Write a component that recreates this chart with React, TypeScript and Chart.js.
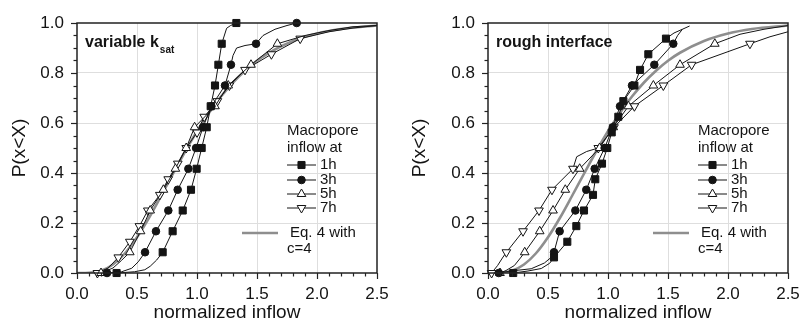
import React, { useEffect, useRef } from 'react';
import { Chart, registerables } from 'chart.js';

Chart.register(...registerables);

const FONT = '"Liberation Sans", Arial, Helvetica, sans-serif';

// ---------- axes ----------
const X_MIN = 0;
const X_MAX = 2.5;
const X_MAJOR = 0.5;
const X_MINOR = 0.1;
const Y_MIN = 0;
const Y_MAX = 1;
const Y_MAJOR = 0.2;
const Y_MINOR = 0.05;
const X_TITLE = 'normalized inflow';
const Y_TITLE = 'P(x<X)';

// ---------- legend text ----------
const LEGEND_TITLE = ['Macropore', 'inflow at'];
const SERIES_LABELS = ['1h', '3h', '5h', '7h'];
const EQ_LABEL = ['Eq. 4 with', 'c=4'];

// ---------- Eq. 4 curve (c=4) ----------
const EQ_X = [0, 0.1, 0.2, 0.3, 0.4, 0.5, 0.6, 0.7, 0.8, 0.9, 1.0, 1.1, 1.2, 1.3, 1.4, 1.5, 1.6, 1.8, 2.0, 2.2, 2.5];
const EQ_P = [0, 0.001, 0.009, 0.034, 0.079, 0.143, 0.221, 0.308, 0.397, 0.485, 0.567, 0.64, 0.706, 0.762, 0.809, 0.849, 0.881, 0.928, 0.958, 0.976, 0.99];

// ---------- left panel: variable k_sat ----------
const VK_1H_X = [0.33, 0.48, 0.565, 0.61, 0.664, 0.714, 0.797, 0.881, 0.95, 0.997, 1.039, 1.081, 1.114, 1.15, 1.178, 1.206, 1.247, 1.28, 1.328];
const VK_1H_P = [0, 0.005, 0.013, 0.027, 0.052, 0.083, 0.167, 0.25, 0.333, 0.417, 0.5, 0.583, 0.667, 0.75, 0.833, 0.917, 0.979, 0.99, 1];
const VK_1H_M = [1, 0, 0, 0, 0, 1, 1, 1, 1, 1, 1, 1, 1, 1, 1, 1, 0, 0, 1];

const VK_3H_X = [0.25, 0.372, 0.456, 0.511, 0.567, 0.658, 0.761, 0.839, 0.928, 0.992, 1.05, 1.12, 1.233, 1.283, 1.3, 1.33, 1.4, 1.492, 1.55, 1.65, 1.75, 1.831];
const VK_3H_P = [0, 0.005, 0.019, 0.045, 0.083, 0.167, 0.25, 0.333, 0.417, 0.5, 0.583, 0.667, 0.75, 0.833, 0.87, 0.9, 0.91, 0.917, 0.95, 0.975, 0.99, 1];
const VK_3H_M = [1, 0, 0, 0, 1, 1, 1, 1, 1, 1, 1, 1, 1, 1, 0, 0, 0, 1, 0, 0, 0, 1];

const VK_5H_X = [0.2, 0.3, 0.37, 0.44, 0.53, 0.61, 0.72, 0.82, 0.91, 0.98, 1.15, 1.26, 1.45, 1.67, 1.9, 2.1, 2.3, 2.5];
const VK_5H_P = [0, 0.02, 0.05, 0.083, 0.167, 0.25, 0.333, 0.417, 0.5, 0.583, 0.667, 0.75, 0.833, 0.917, 0.95, 0.97, 0.985, 0.99];
const VK_5H_M = [1, 0, 0, 1, 1, 1, 1, 1, 1, 1, 1, 1, 1, 1, 0, 0, 0, 0];

const VK_7H_X = [0.17, 0.26, 0.344, 0.44, 0.52, 0.59, 0.69, 0.76, 0.84, 0.91, 1.0, 1.06, 1.17, 1.27, 1.4, 1.62, 1.86, 2.1, 2.3, 2.5];
const VK_7H_P = [0, 0.02, 0.0625, 0.125, 0.1875, 0.25, 0.3125, 0.375, 0.4375, 0.5, 0.5625, 0.625, 0.6875, 0.75, 0.8125, 0.875, 0.9375, 0.965, 0.98, 0.99];
const VK_7H_M = [1, 0, 1, 1, 1, 1, 1, 1, 1, 1, 1, 1, 1, 1, 1, 1, 1, 0, 0, 0];

// ---------- right panel: rough interface ----------
const RI_1H_X = [0.21, 0.333, 0.444, 0.514, 0.55, 0.661, 0.736, 0.8, 0.875, 0.894, 0.95, 0.994, 1.031, 1.086, 1.128, 1.22, 1.267, 1.336, 1.483, 1.55, 1.62, 1.68];
const RI_1H_P = [0, 0.008, 0.018, 0.039, 0.0625, 0.125, 0.1875, 0.25, 0.3125, 0.375, 0.4375, 0.5, 0.5625, 0.625, 0.6875, 0.75, 0.8125, 0.875, 0.9375, 0.96, 0.975, 0.988];
const RI_1H_M = [1, 0, 0, 0, 1, 1, 1, 1, 1, 1, 1, 1, 1, 1, 1, 1, 1, 1, 1, 0, 0, 0];

const RI_3H_X = [0.09, 0.19, 0.36, 0.47, 0.52, 0.55, 0.597, 0.728, 0.819, 0.889, 0.972, 1.04, 1.1, 1.2, 1.386, 1.544, 1.58, 1.62];
const RI_3H_P = [0, 0.008, 0.017, 0.04, 0.06, 0.083, 0.167, 0.25, 0.333, 0.417, 0.5, 0.583, 0.667, 0.75, 0.833, 0.917, 0.95, 0.975];
const RI_3H_M = [1, 0, 0, 0, 0, 1, 1, 1, 1, 1, 1, 1, 1, 1, 1, 1, 0, 0];

const RI_5H_X = [0.1, 0.15, 0.22, 0.27, 0.306, 0.431, 0.542, 0.644, 0.764, 0.93, 1.044, 1.17, 1.378, 1.6, 1.89, 2.1, 2.3, 2.5];
const RI_5H_P = [0, 0.01, 0.03, 0.06, 0.083, 0.167, 0.25, 0.333, 0.417, 0.5, 0.583, 0.667, 0.75, 0.833, 0.917, 0.955, 0.975, 0.99];
const RI_5H_M = [1, 0, 0, 0, 1, 1, 1, 1, 1, 1, 1, 1, 1, 1, 1, 0, 0, 0];

const RI_7H_X = [0.03, 0.08, 0.12, 0.153, 0.292, 0.425, 0.533, 0.708, 0.739, 0.822, 0.919, 1.05, 1.22, 1.461, 1.697, 2.183, 2.35, 2.5];
const RI_7H_P = [0, 0.03, 0.06, 0.083, 0.167, 0.25, 0.333, 0.417, 0.465, 0.486, 0.5, 0.583, 0.667, 0.75, 0.833, 0.917, 0.945, 0.965];
const RI_7H_M = [1, 0, 0, 1, 1, 1, 1, 1, 0, 0, 1, 1, 1, 1, 1, 1, 0, 0];

// ---------- styles ----------
const INK = '#141414';
const GREY = '#8e8e8e';
const GRID = '#dedede';
type Mk = { shape: string; fill: string; r: number; rot: number };
const MARKERS: Mk[] = [
  { shape: 'rect', fill: INK, r: 5, rot: 0 },
  { shape: 'circle', fill: INK, r: 3.8, rot: 0 },
  { shape: 'triangle', fill: '#ffffff', r: 5, rot: 0 },
  { shape: 'triangle', fill: '#ffffff', r: 5, rot: 180 },
];

type Series = { x: number[]; p: number[]; m: number[] };

const isMult = (v: number, step: number) => {
  const q = v / step;
  return Math.abs(q - Math.round(q)) < 1e-6;
};

function drawMarker(ctx: CanvasRenderingContext2D, mk: Mk, x: number, y: number) {
  ctx.beginPath();
  if (mk.shape === 'rect') {
    const s = mk.r * Math.SQRT1_2;
    ctx.rect(x - s, y - s, 2 * s, 2 * s);
  } else if (mk.shape === 'circle') {
    ctx.arc(x, y, mk.r, 0, Math.PI * 2);
  } else {
    const dir = mk.rot === 180 ? -1 : 1;
    const r = mk.r;
    ctx.moveTo(x, y - dir * r);
    ctx.lineTo(x + r * 0.866, y + dir * r * 0.5);
    ctx.lineTo(x - r * 0.866, y + dir * r * 0.5);
    ctx.closePath();
  }
  ctx.fillStyle = mk.fill;
  ctx.fill();
  ctx.lineWidth = 1;
  ctx.strokeStyle = INK;
  ctx.stroke();
}

function makeConfig(series: Series[], label: string, sub: string, yAxisWidth: number, padRight: number): any {
  const datasets: any[] = series.map((s, i) => {
    const mk = MARKERS[i];
    return {
      label: SERIES_LABELS[i],
      data: s.x.map((v, j) => ({ x: v, y: s.p[j] })),
      showLine: true,
      borderColor: INK,
      borderWidth: 1,
      tension: 0,
      pointStyle: mk.shape,
      pointRotation: mk.rot,
      pointRadius: s.m.map((f) => (f ? mk.r : 0)),
      pointBackgroundColor: mk.fill,
      pointBorderColor: INK,
      pointBorderWidth: 1,
      clip: false,
    };
  });
  datasets.push({
    label: EQ_LABEL.join(' '),
    data: EQ_X.map((v, j) => ({ x: v, y: EQ_P[j] })),
    showLine: true,
    borderColor: GREY,
    borderWidth: 2.6,
    pointRadius: 0,
    cubicInterpolationMode: 'monotone',
  });

  const decor = {
    id: 'decor',
    afterDraw(chart: any) {
      const { ctx, chartArea } = chart;
      const { left, right, top, bottom } = chartArea;
      const xs = chart.scales.x;
      const ys = chart.scales.y;
      ctx.save();
      ctx.strokeStyle = '#222';
      ctx.lineWidth = 1.2;
      // tick marks
      for (let k = 0; k <= Math.round((X_MAX - X_MIN) / X_MINOR); k++) {
        const v = X_MIN + k * X_MINOR;
        const px = Math.round(xs.getPixelForValue(v)) + 0.5;
        const len = isMult(v, X_MAJOR) ? 6 : 3.5;
        ctx.beginPath();
        ctx.moveTo(px, bottom);
        ctx.lineTo(px, bottom + len);
        ctx.stroke();
      }
      for (let k = 0; k <= Math.round((Y_MAX - Y_MIN) / Y_MINOR); k++) {
        const v = Y_MIN + k * Y_MINOR;
        const py = Math.round(ys.getPixelForValue(v)) + 0.5;
        const len = isMult(v, Y_MAJOR) ? 6 : 3.5;
        ctx.beginPath();
        ctx.moveTo(left, py);
        ctx.lineTo(left - len, py);
        ctx.stroke();
      }
      // frame
      ctx.lineWidth = 1.5;
      ctx.strokeRect(left, top, right - left, bottom - top);

      // panel label
      ctx.fillStyle = INK;
      ctx.textBaseline = 'middle';
      ctx.textAlign = 'left';
      ctx.font = `bold 16px ${FONT}`;
      ctx.fillText(label, left + 8, top + 20);
      if (sub) {
        const w = ctx.measureText(label).width;
        ctx.font = `bold 10px ${FONT}`;
        ctx.fillText(sub, left + 8 + w + 1, top + 27);
      }

      // legend
      const lx = left + 210;
      ctx.font = `15px ${FONT}`;
      ctx.fillText(LEGEND_TITLE[0], lx, top + 108);
      ctx.fillText(LEGEND_TITLE[1], lx, top + 125);
      const rows = [142, 157, 171, 185];
      rows.forEach((ry, i) => {
        const y = top + ry;
        ctx.beginPath();
        ctx.strokeStyle = INK;
        ctx.lineWidth = 1;
        ctx.moveTo(lx, y);
        ctx.lineTo(lx + 29, y);
        ctx.stroke();
        drawMarker(ctx, MARKERS[i], lx + 14.5, y);
        ctx.fillStyle = INK;
        ctx.font = `15px ${FONT}`;
        ctx.fillText(SERIES_LABELS[i], lx + 33, y);
      });
      ctx.beginPath();
      ctx.strokeStyle = GREY;
      ctx.lineWidth = 2.6;
      ctx.moveTo(left + 165, top + 210);
      ctx.lineTo(left + 201, top + 210);
      ctx.stroke();
      ctx.fillStyle = INK;
      ctx.fillText(EQ_LABEL[0], lx + 3, top + 210);
      ctx.fillText(EQ_LABEL[1], lx, top + 226);
      ctx.restore();
    },
  };

  const tickList = (min: number, max: number, step: number) => {
    const out: any[] = [];
    const n = Math.round((max - min) / step);
    for (let k = 0; k <= n; k++) out.push({ value: +(min + k * step).toFixed(4) });
    return out;
  };

  return {
    type: 'scatter',
    data: { datasets },
    plugins: [decor],
    options: {
      animation: false,
      responsive: false,
      devicePixelRatio: 1,
      layout: { padding: { left: 0, right: padRight, top: 23, bottom: 0 } },
      plugins: { legend: { display: false }, tooltip: { enabled: false } },
      scales: {
        x: {
          type: 'linear',
          min: X_MIN,
          max: X_MAX,
          afterBuildTicks: (s: any) => {
            s.ticks = tickList(X_MIN, X_MAX, X_MAJOR);
          },
          ticks: {
            autoSkip: false,
            maxRotation: 0,
            color: INK,
            padding: 11,
            font: { family: FONT, size: 17 },
            callback: (v: any) => Number(v).toFixed(1),
          },
          grid: {
            drawTicks: false,
            color: (c: any) => {
              const v = c.tick ? c.tick.value : 0;
              return v > X_MIN + 1e-6 && v < X_MAX - 1e-6 ? GRID : 'rgba(0,0,0,0)';
            },
            lineWidth: 1,
          },
          border: { display: false },
          title: {
            display: true,
            text: X_TITLE,
            color: INK,
            font: { family: FONT, size: 19 },
            padding: { top: 0, bottom: 0 },
          },
          afterFit: (s: any) => {
            s.height = 51;
            s.paddingLeft = 0;
            s.paddingRight = 0;
          },
        },
        y: {
          type: 'linear',
          min: Y_MIN,
          max: Y_MAX,
          afterBuildTicks: (s: any) => {
            s.ticks = tickList(Y_MIN, Y_MAX, Y_MAJOR);
          },
          ticks: {
            color: INK,
            padding: 13,
            font: { family: FONT, size: 17 },
            callback: (v: any) => Number(v).toFixed(1),
          },
          grid: {
            drawTicks: false,
            color: (c: any) => {
              const v = c.tick ? c.tick.value : 0;
              return v > Y_MIN + 1e-6 && v < Y_MAX - 1e-6 ? GRID : 'rgba(0,0,0,0)';
            },
            lineWidth: 1,
          },
          border: { display: false },
          title: {
            display: true,
            text: Y_TITLE,
            color: INK,
            font: { family: FONT, size: 19 },
            padding: { top: 8, bottom: 0 },
          },
          afterFit: (s: any) => {
            s.width = yAxisWidth;
            s.paddingTop = 0;
            s.paddingBottom = 0;
          },
        },
      },
    },
  };
}

const LEFT_SERIES: Series[] = [
  { x: VK_1H_X, p: VK_1H_P, m: VK_1H_M },
  { x: VK_3H_X, p: VK_3H_P, m: VK_3H_M },
  { x: VK_5H_X, p: VK_5H_P, m: VK_5H_M },
  { x: VK_7H_X, p: VK_7H_P, m: VK_7H_M },
];
const RIGHT_SERIES: Series[] = [
  { x: RI_1H_X, p: RI_1H_P, m: RI_1H_M },
  { x: RI_3H_X, p: RI_3H_P, m: RI_3H_M },
  { x: RI_5H_X, p: RI_5H_P, m: RI_5H_M },
  { x: RI_7H_X, p: RI_7H_P, m: RI_7H_M },
];

function Panel(props: { left: number; width: number; series: Series[]; label: string; sub: string; yw: number; pr: number }) {
  const ref = useRef<HTMLCanvasElement>(null);
  useEffect(() => {
    const chart = new Chart(ref.current as HTMLCanvasElement, makeConfig(props.series, props.label, props.sub, props.yw, props.pr));
    return () => chart.destroy();
  }, []);
  return (
    <canvas
      ref={ref}
      width={props.width}
      height={324}
      style={{ position: 'absolute', left: props.left, top: 0, width: props.width, height: 324 }}
    />
  );
}

export default function App() {
  return (
    <div style={{ position: 'fixed', left: 0, top: 0, width: 799, height: 324, background: '#ffffff', overflow: 'hidden' }}>
      <Panel left={0} width={400} series={LEFT_SERIES} label="variable k" sub="sat" yw={77} pr={23} />
      <Panel left={400} width={399} series={RIGHT_SERIES} label="rough interface" sub="" yw={88} pr={11} />
    </div>
  );
}
